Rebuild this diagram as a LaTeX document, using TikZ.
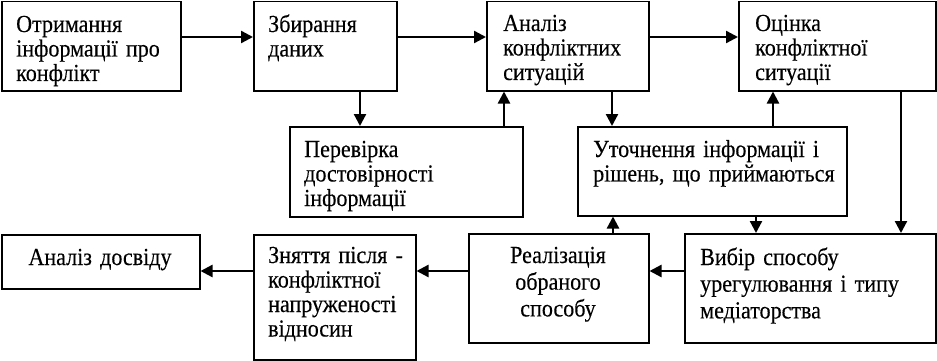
\documentclass[tikz,border=0pt]{standalone}
\usepackage{fontspec}
\setmainfont{Liberation Serif}[FakeStretch=0.9,FakeBold=0.3]
\usetikzlibrary{arrows.meta}
\begin{document}
\begin{tikzpicture}[x=1pt,y=-1pt,
  box/.style={draw, line width=1.5pt, inner sep=0pt, anchor=north west},
  ltxt/.style={anchor=base west, align=left, text width=400pt, inner sep=0pt, font=\fontsize{24.5}{24.5}\selectfont},
  ctxt/.style={anchor=base, align=center, text width=170pt, inner sep=0pt, font=\fontsize{24.5}{24.5}\selectfont},
  wide/.style={font=\fontsize{24.5}{26.7}\selectfont},
  arr/.style={line width=2.3pt, -{Triangle[length=12pt,width=12pt]}}]
\useasboundingbox (0,0) rectangle (937,361);
% boxes
\node[box, minimum width=179pt, minimum height=89pt] (b1) at (1,1) {};
\node[box, minimum width=143pt, minimum height=89pt] (b2) at (253,1) {};
\node[box, minimum width=162pt, minimum height=89pt] (b3) at (486,1) {};
\node[box, minimum width=197pt, minimum height=89pt] (b4) at (738,1) {};
\node[box, minimum width=233pt, minimum height=90pt] (b5) at (289,126) {};
\node[box, minimum width=269pt, minimum height=89pt] (b6) at (577,126) {};
\node[box, minimum width=198pt, minimum height=54pt] (b7) at (1,234) {};
\node[box, minimum width=162pt, minimum height=125pt] (b8) at (253,234) {};
\node[box, minimum width=180pt, minimum height=109pt] (b9) at (468,233) {};
\node[box, minimum width=251pt, minimum height=109pt] (b10) at (684,233) {};
% texts
\node[ltxt] (t1) at (16,32) {Отримання\\інформації про\\конфлікт};
\node[ltxt] (t2) at (268,32) {Збирання\\даних};
\node[ltxt] (t3) at (503,31) {Аналіз\\конфліктних\\ситуацій};
\node[ltxt] (t4) at (755,31) {Оцінка\\конфліктної\\ситуації};
\node[ltxt] (t5) at (304,157) {Перевірка\\достовірності\\інформації};
\node[ltxt] (t6) at (593,157) {Уточнення інформації і\\рішень, що приймаються};
\node[ctxt] (t7) at (100,265) {Аналіз досвіду};
\node[ltxt] (t8) at (268,263) {Зняття після -\\конфліктної\\напруженості\\відносин};
\node[ctxt, wide] (t9) at (558,263) {Реалізація\\обраного\\способу};
\node[ltxt, wide] (t10) at (700,265) {Вибір способу\\урегулювання і типу\\медіаторства};
% connectors
\draw[arr] (b1.east |- 0,37) -- (b2.west |- 0,37);
\draw[arr] (b2.east |- 0,37) -- (b3.west |- 0,37);
\draw[arr] (b3.east |- 0,37) -- (b4.west |- 0,37);
\draw[arr] (360,0 |- b2.south) -- (360,0 |- b5.north);
\draw[arr] (504,0 |- b5.north) -- (504,0 |- b3.south);
\draw[arr] (612,0 |- b3.south) -- (612,0 |- b6.north);
\draw[arr] (773,0 |- b6.north) -- (773,0 |- b4.south);
\draw[arr] (901,0 |- b4.south) -- (901,0 |- b10.north);
\draw[arr] (756,0 |- b6.south) -- (756,0 |- b10.north);
\draw[arr] (613,0 |- b9.north) -- (613,0 |- b6.south);
\draw[arr] (b10.west |- 0,271) -- (b9.east |- 0,271);
\draw[arr] (b9.west |- 0,271) -- (b8.east |- 0,271);
\draw[arr] (b8.west |- 0,271) -- (b7.east |- 0,271);
\end{tikzpicture}
\end{document}
